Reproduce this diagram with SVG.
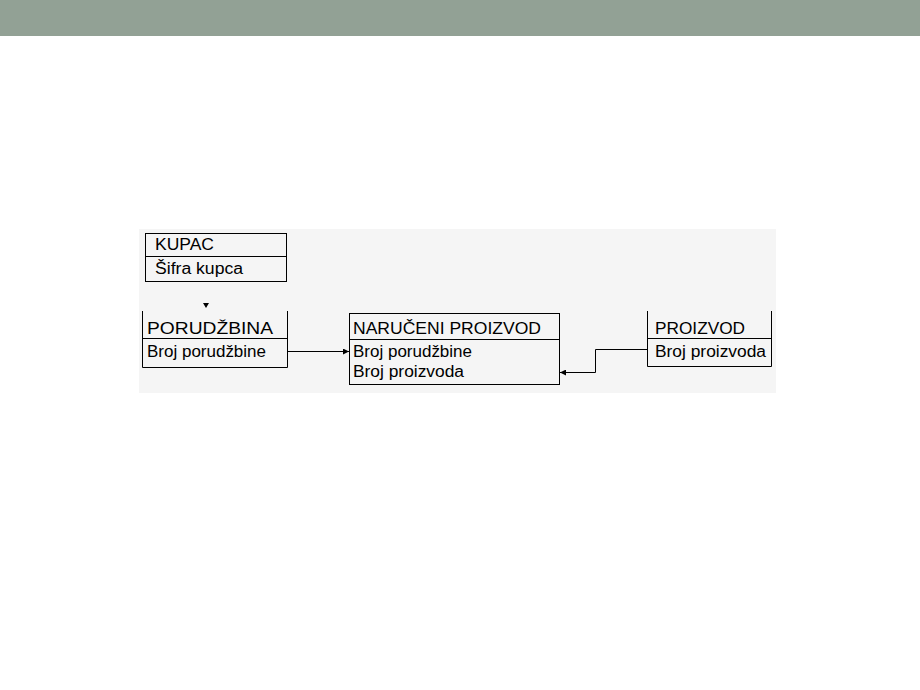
<svg xmlns="http://www.w3.org/2000/svg" width="920" height="690" viewBox="0 0 920 690">
<defs>
<style>
.t{font-family:"Liberation Sans",Arial,sans-serif;font-size:16px;fill:#000}
.b{fill:none;stroke:#000;stroke-width:1}
.c{fill:none;stroke:#000;stroke-width:1}
</style>
<marker id="ah" markerWidth="6" markerHeight="6" refX="6" refY="3" orient="auto" markerUnits="userSpaceOnUse">
<path d="M0,0 L6,3 L0,6 Z" fill="#000"/>
</marker>
</defs>
<rect x="0" y="0" width="920" height="690" fill="#fff"/>
<rect x="0" y="0" width="920" height="36" fill="#92a195"/>
<rect x="139" y="229" width="637" height="164" fill="#f5f5f5"/>
<g id="kupac">
<rect class="b" x="145.5" y="233.5" width="141" height="48" fill="#fff"/>
<line class="b" x1="145" y1="256.5" x2="287" y2="256.5"/>
<text class="t" x="155" y="250" textLength="59" lengthAdjust="spacingAndGlyphs">KUPAC</text>
<text class="t" x="155" y="274" textLength="88" lengthAdjust="spacingAndGlyphs">Šifra kupca</text>
</g>
<g id="porudzbina">
<path class="b" d="M142.5,311 V367.5 H287.5 V311" fill="#fff"/>
<line class="b" x1="142" y1="338.5" x2="288" y2="338.5"/>
<text class="t" x="147" y="334" textLength="126" lengthAdjust="spacingAndGlyphs">PORUDŽBINA</text>
<text class="t" x="147" y="357" textLength="119" lengthAdjust="spacingAndGlyphs">Broj porudžbine</text>
</g>
<g id="naruceni">
<rect class="b" x="349.5" y="313.5" width="210" height="71" fill="#fff"/>
<line class="b" x1="349" y1="339.5" x2="560" y2="339.5"/>
<text class="t" x="353" y="334" textLength="188" lengthAdjust="spacingAndGlyphs">NARUČENI PROIZVOD</text>
<text class="t" x="353" y="357" textLength="119" lengthAdjust="spacingAndGlyphs">Broj porudžbine</text>
<text class="t" x="353" y="377" textLength="111" lengthAdjust="spacingAndGlyphs">Broj proizvoda</text>
</g>
<g id="proizvod">
<path class="b" d="M647.5,311 V366.5 H771.5 V311" fill="#fff"/>
<line class="b" x1="647" y1="338.5" x2="772" y2="338.5"/>
<text class="t" x="655" y="334" textLength="90" lengthAdjust="spacingAndGlyphs">PROIZVOD</text>
<text class="t" x="655" y="357" textLength="111" lengthAdjust="spacingAndGlyphs">Broj proizvoda</text>
</g>
<g id="connectors">
<path d="M203,303 L209,303 L206,308 Z" fill="#000"/>
<line class="c" x1="288" y1="351.5" x2="349" y2="351.5" marker-end="url(#ah)"/>
<path class="c" d="M647,349.5 H595.5 V372.5 H560" marker-end="url(#ah)"/>
</g>
</svg>
